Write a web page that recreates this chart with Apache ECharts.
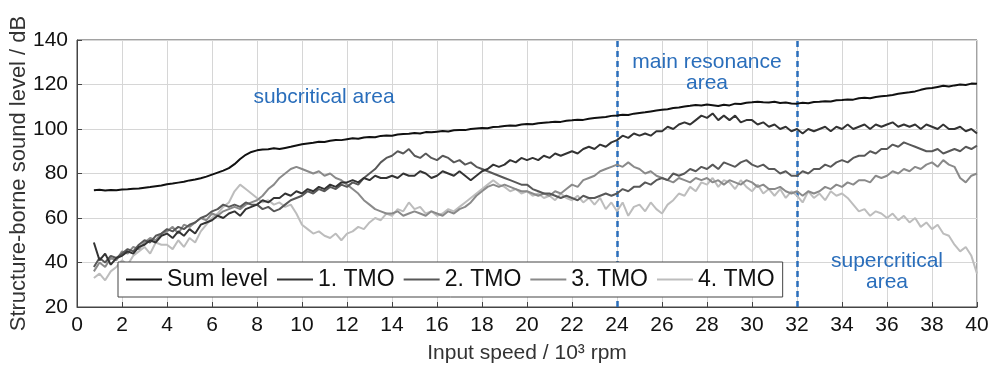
<!DOCTYPE html>
<html>
<head>
<meta charset="utf-8">
<script src="https://cdn.jsdelivr.net/npm/echarts@6/dist/echarts.min.js"></script>
<style>
  html, body { margin: 0; padding: 0; background: #fff; }
  #chart { width: 1002px; height: 368px; }
</style>
</head>
<body>
<div id="chart"></div>
<script>
// input speed in 10^3 rpm
const speeds = [0.75,
  1, 1.25, 1.5, 1.75, 2, 2.25, 2.5, 2.75, 3, 3.25, 3.5, 3.75, 4, 4.25, 4.5, 4.75,
  5, 5.25, 5.5, 5.75, 6, 6.25, 6.5, 6.75, 7, 7.25, 7.5, 7.75, 8, 8.25, 8.5, 8.75,
  9, 9.25, 9.5, 9.75, 10, 10.25, 10.5, 10.75, 11, 11.25, 11.5, 11.75, 12, 12.25, 12.5, 12.75,
  13, 13.25, 13.5, 13.75, 14, 14.25, 14.5, 14.75, 15, 15.25, 15.5, 15.75, 16, 16.25, 16.5, 16.75,
  17, 17.25, 17.5, 17.75, 18, 18.25, 18.5, 18.75, 19, 19.25, 19.5, 19.75, 20, 20.25, 20.5, 20.75,
  21, 21.25, 21.5, 21.75, 22, 22.25, 22.5, 22.75, 23, 23.25, 23.5, 23.75, 24, 24.25, 24.5, 24.75,
  25, 25.25, 25.5, 25.75, 26, 26.25, 26.5, 26.75, 27, 27.25, 27.5, 27.75, 28, 28.25, 28.5, 28.75,
  29, 29.25, 29.5, 29.75, 30, 30.25, 30.5, 30.75, 31, 31.25, 31.5, 31.75, 32, 32.25, 32.5, 32.75,
  33, 33.25, 33.5, 33.75, 34, 34.25, 34.5, 34.75, 35, 35.25, 35.5, 35.75, 36, 36.25, 36.5, 36.75,
  37, 37.25, 37.5, 37.75, 38, 38.25, 38.5, 38.75, 39, 39.25, 39.5, 39.75, 40];

// levels in dB
const sumLevel = [72.5,
  72.7, 72.4, 72.6, 72.5, 72.8, 72.9, 73.1, 73.3, 73.6, 73.9, 74.3, 74.6, 75.2, 75.5, 75.9, 76.3,
  76.9, 77.3, 77.9, 78.6, 79.5, 80.4, 81.3, 82.4, 84.2, 86.5, 88.4, 89.7, 90.4, 90.8, 90.9, 91.3,
  91.0, 91.5, 92.0, 92.6, 93.1, 93.5, 93.8, 94.3, 94.2, 94.7, 95.1, 95.0, 95.4, 95.8, 95.6, 96.2,
  96.4, 96.3, 96.9, 97.1, 97.0, 97.5, 97.7, 97.9, 98.2, 98.0, 98.6, 98.5, 98.8, 99.1, 98.9, 99.4,
  99.6, 99.5, 100.0, 100.2, 100.4, 100.3, 100.9, 101.0, 101.3, 101.6, 101.5, 102.0, 102.2, 102.1, 102.6, 102.8,
  103.0, 103.3, 103.2, 103.7, 103.9, 104.2, 104.1, 104.6, 104.9, 105.2, 105.4, 105.9, 106.1, 106.4, 106.3, 106.9,
  107.2, 107.5, 107.9, 108.3, 108.6, 108.9, 109.4, 109.7, 110.1, 110.4, 110.8, 110.6, 111.0, 110.7, 110.3, 110.9,
  110.6, 111.4, 111.2, 111.8, 112.0, 112.3, 112.0, 111.9, 112.2, 111.7, 111.9, 111.5, 111.4, 111.8, 111.6, 112.1,
  112.2, 112.5, 112.4, 112.9, 113.0, 113.3, 113.2, 113.8, 114.0, 113.8, 114.4, 114.7, 114.9, 115.3, 115.8, 116.2,
  116.5, 116.9, 117.6, 118.2, 118.4, 118.9, 119.4, 119.1, 119.6, 120.0, 119.8, 120.4, 120.3];

const tmo1 = [49,
  41, 44, 39, 42, 43, 45, 44, 47, 48, 50, 49, 52, 53, 51, 54, 52,
  55, 53, 57, 58, 59, 61, 60, 62, 63, 61, 64, 65, 66, 68, 67, 69,
  69, 71, 70, 72, 71, 73, 72, 74, 73, 75, 74, 76, 76, 77, 76, 78,
  77, 79, 78, 78, 79, 78, 80, 79, 79, 81, 80, 78, 79, 81, 80, 79,
  81, 79, 77, 79, 81, 82, 84, 83, 84, 86, 85, 87, 86, 87, 86, 88,
  87, 89, 88, 89, 90, 89, 91, 92, 91, 93, 92, 94, 95, 97, 96, 98,
  97, 98, 97, 99, 99, 101, 100, 102, 103, 102, 104, 106, 105, 107, 104, 106,
  104, 106, 103, 104, 104, 102, 103, 101, 102, 100, 101, 99, 100, 98, 100, 99,
  100, 101, 99, 101, 100, 102, 100, 101, 102, 100, 102, 101, 102, 103, 101, 102,
  101, 102, 100, 102, 101, 100, 102, 100, 100, 101, 99, 100, 98];

const tmo2 = [38,
  42, 40, 43, 42, 44, 46, 45, 48, 50, 49, 52, 53, 55, 54, 56, 55,
  57, 58, 60, 61, 63, 64, 66, 65, 66, 65, 67, 66, 66, 64, 65, 63,
  64, 66, 68, 69, 70, 72, 71, 73, 72, 74, 73, 75, 74, 76, 75, 78,
  80, 82, 85, 87, 88, 90, 89, 91, 88, 87, 89, 87, 86, 88, 87, 85,
  86, 84, 85, 83, 82, 81, 80, 79, 78, 77, 76, 75, 75, 73, 72, 71,
  71, 70, 69, 70, 69, 68, 70, 69, 69, 70, 71, 70, 71, 73, 72, 74,
  74, 76, 75, 77, 78, 77, 80, 79, 80, 82, 81, 83, 82, 84, 82, 85,
  84, 83, 85, 86, 84, 83, 84, 82, 82, 80, 81, 79, 79, 81, 80, 82,
  82, 84, 83, 85, 86, 85, 87, 88, 88, 90, 89, 91, 91, 93, 92, 94,
  93, 92, 91, 90, 90, 91, 89, 90, 91, 90, 92, 91, 92.5];

const tmo3 = [36,
  40, 38, 42, 41, 45, 44, 47, 46, 49, 51, 50, 53, 54, 56, 53, 57,
  56, 58, 60, 59, 62, 61, 63, 64, 65, 64, 66, 67, 68, 70, 73, 75,
  78, 80, 82, 83, 82, 81, 80, 81, 79, 80, 78, 77, 75, 73, 71, 68,
  66, 64, 63, 62, 62, 63, 61, 62, 63, 62, 61, 63, 62, 61, 63, 62,
  64, 65, 67, 70, 72, 74, 75, 74, 75, 74, 73, 72, 72, 71, 70, 71,
  70, 72, 71, 73, 75, 74, 77, 78, 79, 81, 82, 83, 84, 83, 85, 83,
  82, 80, 81, 79, 78, 77, 76, 78, 77, 76, 78, 77, 78, 76, 77, 75,
  77, 76, 75, 77, 76, 74, 75, 73, 73, 74, 72, 71, 72, 70, 72, 71,
  72, 74, 73, 75, 74, 76, 75, 77, 77, 76, 79, 78, 79, 81, 80, 82,
  81, 83, 82, 84, 85, 83, 86, 84, 83, 78, 76, 79, 80];

const tmo4 = [33,
  35, 32, 36, 38, 41, 39, 43, 45, 47, 44, 49, 48, 48, 46, 50, 47,
  51, 49, 54, 57, 60, 62, 65, 67, 72, 75, 73, 71, 69, 67, 68, 66,
  67, 65, 66, 62, 57, 55, 53, 54, 52, 51, 53, 50, 53, 54, 56, 55,
  58, 60, 59, 62, 61, 64, 63, 67, 64, 65, 62, 63, 61, 62, 64, 63,
  65, 67, 69, 71, 73, 75, 77, 75, 74, 72, 73, 71, 72, 70, 71, 69,
  70, 68, 71, 69, 68, 70, 67, 69, 66, 69, 64, 67, 63, 67, 61, 65,
  66, 63, 67, 64, 62, 66, 68, 71, 70, 74, 72, 76, 75, 78, 74, 77,
  76, 73, 77, 74, 72, 75, 71, 73, 70, 73, 69, 72, 70, 67, 72, 69,
  71, 68, 72, 70, 71, 69, 66, 63, 64, 61, 63, 62, 60, 62, 59, 61,
  58, 60, 56, 58, 55, 57, 53, 52, 48, 45, 47, 43, 35];

const seriesNames = ['Sum level', '1. TMO', '2. TMO', '3. TMO', '4. TMO'];
const seriesData = [sumLevel, tmo1, tmo2, tmo3, tmo4];
const seriesColors = ['#111111', '#333333', '#585858', '#8a8a8a', '#bdbdbd'];
const regionBounds = [24, 32];

const font = "'Liberation Sans', Arial, Helvetica, sans-serif";
const blue = '#2a6ebb';

let chart = echarts.init(document.getElementById('chart'));

let series = seriesNames.map((name, i) => ({
  name: name,
  type: 'line',
  showSymbol: false,
  symbol: 'none',
  z: 10 - i,
  data: speeds.map((s, j) => [s, seriesData[i][j]]),
  lineStyle: { color: seriesColors[i], width: 2 },
  itemStyle: { color: seriesColors[i] }
}));

// dashed region borders
series.push({
  type: 'line',
  data: [],
  z: 20,
  markLine: {
    silent: true,
    symbol: 'none',
    label: { show: false },
    lineStyle: { color: blue, type: [6, 4], width: 2.5 },
    data: regionBounds.map(v => ({ xAxis: v }))
  }
});

chart.setOption({
  animation: false,
  textStyle: { fontFamily: font },
  grid: {
    left: 77, right: 25, top: 40, bottom: 61,
    containLabel: false,
    outerBoundsMode: 'none',
    show: true, borderColor: '#444', borderWidth: 1
  },
  legend: {
    data: seriesNames,
    left: 118,
    top: 262,
    icon: 'rect',
    itemWidth: 36,
    itemHeight: 2,
    itemGap: 9,
    padding: [6, 8],
    backgroundColor: '#fff',
    borderColor: '#444',
    borderWidth: 1,
    borderRadius: 0,
    textStyle: { fontSize: 23, color: '#111', fontFamily: font },
    z: 30
  },
  xAxis: {
    type: 'value',
    min: 0, max: 40, interval: 2,
    name: 'Input speed / 10³ rpm',
    nameLocation: 'middle',
    nameGap: 36,
    nameMoveOverlap: false,
    nameTextStyle: { fontSize: 21, color: '#333' },
    axisLine: { lineStyle: { color: '#444' } },
    axisTick: { inside: true, length: 5, lineStyle: { color: '#444' } },
    axisLabel: { fontSize: 21, color: '#111', margin: 8 },
    splitLine: { lineStyle: { color: '#d6d6d6' } }
  },
  yAxis: {
    type: 'value',
    min: 20, max: 140, interval: 20,
    name: 'Structure-borne sound level / dB',
    nameLocation: 'middle',
    nameGap: 47,
    nameMoveOverlap: false,
    nameTextStyle: { fontSize: 22, color: '#333' },
    axisLine: { show: true, lineStyle: { color: '#444' } },
    axisTick: { show: true, inside: true, length: 5, lineStyle: { color: '#444' } },
    axisLabel: { fontSize: 21, color: '#111', margin: 9 },
    splitLine: { lineStyle: { color: '#d6d6d6' } }
  },
  graphic: [
    { type: 'text', x: 324, y: 97, z: 40,
      style: { text: 'subcritical area', font: "21px " + font, fill: blue, align: 'center', verticalAlign: 'middle' } },
    { type: 'text', x: 707, y: 73, z: 40,
      style: { text: 'main resonance\narea', font: "21px " + font, lineHeight: 21, fill: blue, align: 'center', verticalAlign: 'middle' } },
    { type: 'text', x: 887, y: 272, z: 40,
      style: { text: 'supercritical\narea', font: "21px " + font, lineHeight: 21, fill: blue, align: 'center', verticalAlign: 'middle' } }
  ],
  series: series
});
</script>
</body>
</html>
